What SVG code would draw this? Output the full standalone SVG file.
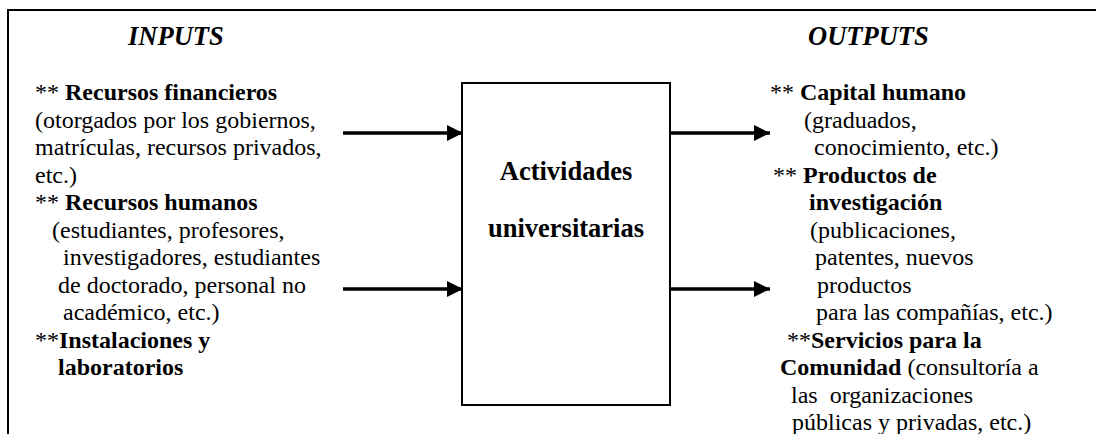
<svg xmlns="http://www.w3.org/2000/svg" width="1096" height="434" viewBox="0 0 1096 434">
<defs>
<style>
text{font-family:'Liberation Serif','Times New Roman','Tinos','DejaVu Serif',serif;font-size:24px;fill:#000;white-space:pre}
.b{font-weight:bold}
.h{font-weight:bold;font-style:italic;font-size:26.5px}
.box{fill:#fff;stroke:#000;stroke-width:2}
.frame{fill:none;stroke:#000;stroke-width:2}
.arr{stroke:#000;stroke-width:3.5;fill:none;marker-end:url(#ah)}
.bt{font-weight:bold;font-size:26.5px;text-anchor:middle}
</style>
<marker id="ah" markerUnits="userSpaceOnUse" markerWidth="16" markerHeight="16" refX="16" refY="8" orient="auto">
<path d="M0,0 L16,8 L0,16 Z" fill="#000"/>
</marker>
</defs>
<rect width="1096" height="434" fill="#fff"/>
<g id="frame">
<path class="frame" d="M8,434 V10 H1096"/>
</g>
<g id="inputs">
<text class="h" x="128" y="45">INPUTS</text>
<text x="35" y="100">** <tspan class="b">Recursos financieros</tspan></text>
<text x="35" y="127.5">(otorgados por los gobiernos,</text>
<text x="35" y="155">matrículas, recursos privados,</text>
<text x="35" y="182.5">etc.)</text>
<text x="35" y="210">** <tspan class="b">Recursos humanos</tspan></text>
<text x="52" y="237.5">(estudiantes, profesores,</text>
<text x="63" y="265">investigadores, estudiantes</text>
<text x="58" y="292.5">de doctorado, personal no</text>
<text x="63" y="320">académico, etc.)</text>
<text x="35" y="347.5">**<tspan class="b">Instalaciones y</tspan></text>
<text class="b" x="58" y="375">laboratorios</text>
</g>
<g id="activities">
<rect class="box" x="462" y="83" width="208" height="322"/>
<text class="bt" x="566" y="180">Actividades</text>
<text class="bt" x="566" y="237">universitarias</text>
</g>
<g id="outputs">
<text class="h" x="808" y="45">OUTPUTS</text>
<text x="770" y="100">** <tspan class="b">Capital humano</tspan></text>
<text x="804" y="127.5">(graduados,</text>
<text x="814" y="155">conocimiento, etc.)</text>
<text x="773" y="182.5">** <tspan class="b">Productos de</tspan></text>
<text class="b" x="809" y="210">investigación</text>
<text x="810" y="237.5">(publicaciones,</text>
<text x="815" y="265">patentes, nuevos</text>
<text x="817" y="292.5">productos</text>
<text x="816" y="320">para las compañías, etc.)</text>
<text x="787" y="347.5">**<tspan class="b">Servicios para la</tspan></text>
<text x="780" y="375"><tspan class="b">Comunidad</tspan> (consultoría a</text>
<text x="791" y="402.5">las  organizaciones</text>
<text x="792" y="430">públicas y privadas, etc.)</text>
</g>
<g id="connectors">
<line class="arr" x1="343" y1="133" x2="463" y2="133"/>
<line class="arr" x1="343" y1="289" x2="463" y2="289"/>
<line class="arr" x1="670" y1="133" x2="770" y2="133"/>
<line class="arr" x1="670" y1="289" x2="770" y2="289"/>
</g>
</svg>
